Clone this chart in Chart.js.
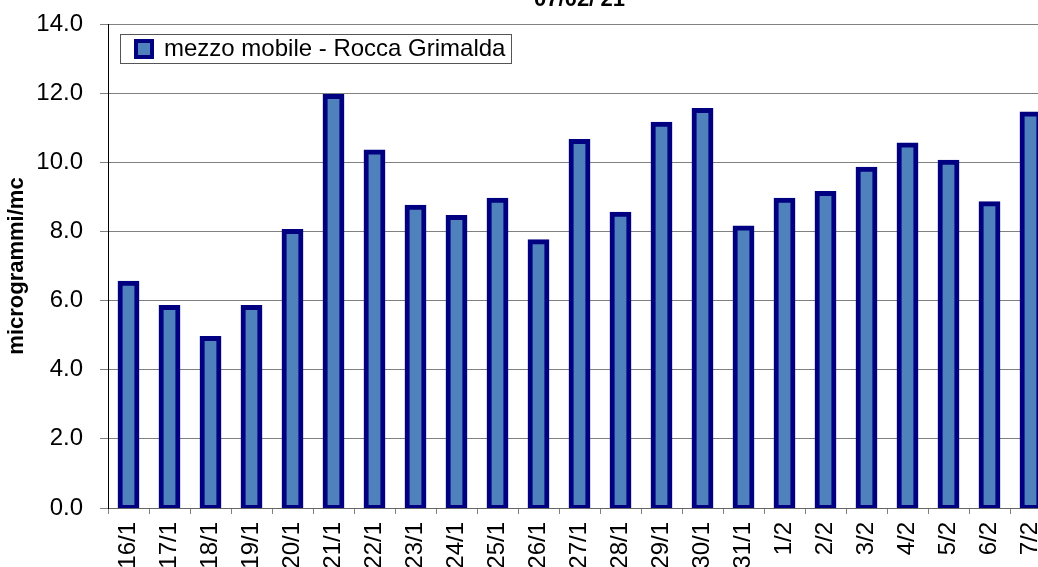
<!DOCTYPE html>
<html>
<head>
<meta charset="utf-8">
<script src="https://cdn.jsdelivr.net/npm/chart.js@4/dist/chart.umd.min.js"></script>
<style>
  html, body { margin: 0; padding: 0; overflow: hidden; background: #fff; }
  #wrap { position: absolute; left: 0; top: -20px; }
</style>
</head>
<body>
<div id="wrap"><canvas id="chart" width="1070" height="587"></canvas></div>
<script>
// dati giornalieri PM - mezzo mobile
const giorni = ["16/1","17/1","18/1","19/1","20/1","21/1","22/1","23/1","24/1","25/1","26/1","27/1",
  "28/1","29/1","30/1","31/1","1/2","2/2","3/2","4/2","5/2","6/2","7/2"];
const valori = [6.5, 5.8, 4.9, 5.8, 8.0, 11.9, 10.3, 8.7, 8.4, 8.9, 7.7, 10.6,
  8.5, 11.1, 11.5, 8.1, 8.9, 9.1, 9.8, 10.5, 10.0, 8.8, 11.4];
const serie = "mezzo mobile - Rocca Grimalda";
const titolo = "07/02/'21";

const FONT = "'Liberation Sans', Arial, sans-serif";

// cornice attorno alla legenda
const legendBox = {
  id: "legendBox",
  afterDraw(chart) {
    const hb = chart.legend && chart.legend.legendHitBoxes && chart.legend.legendHitBoxes[0];
    if (!hb) return;
    const ctx = chart.ctx;
    ctx.save();
    ctx.strokeStyle = "#555";
    ctx.lineWidth = 1;
    const x0 = Math.round(hb.left - 16) + 0.5;
    const y0 = Math.round(hb.top - 3) + 0.5;
    ctx.strokeRect(x0, y0, Math.round(hb.width + 22), Math.round(hb.height + 5));
    ctx.restore();
  }
};

new Chart(document.getElementById("chart").getContext("2d"), {
  type: "bar",
  data: {
    labels: giorni,
    datasets: [{
      label: serie,
      data: valori,
      backgroundColor: "#4F81BD",
      borderColor: "#000080",
      borderWidth: 5,
      borderSkipped: false,
      inflateAmount: 2.5,
      categoryPercentage: 1,
      barPercentage: 0.41
    }]
  },
  options: {
    responsive: false,
    animation: false,
    layout: { padding: { left: 0, right: 19, top: 0, bottom: 0 } },
    plugins: {
      title: {
        display: true,
        text: titolo,
        fullSize: false,
        color: "#000",
        font: { family: FONT, size: 22, weight: "bold" },
        padding: { top: 7, bottom: 10.6 }
      },
      legend: {
        position: "chartArea",
        align: "start",
        title: { display: true, text: "", font: { size: 10 }, padding: { top: 17, bottom: 0 } },
        labels: {
          color: "#000",
          font: { family: FONT, size: 24 },
          boxWidth: 16,
          boxHeight: 16,
          padding: 28,
          generateLabels(chart) {
            const items = Chart.defaults.plugins.legend.labels.generateLabels(chart);
            items.forEach(it => { it.lineWidth = 4; });
            return items;
          }
        }
      },
      tooltip: { enabled: false }
    },
    scales: {
      x: {
        ticks: {
          color: "#000",
          font: { family: FONT, size: 24 },
          minRotation: 90,
          maxRotation: 90,
          autoSkip: false,
          padding: 8
        },
        grid: { drawOnChartArea: false, drawTicks: true, tickLength: 6, color: "#808080" },
        border: { color: "#666", width: 1 },
        afterFit(scale) { scale.height = 59; }
      },
      y: {
        min: 0,
        max: 14,
        ticks: {
          stepSize: 2,
          color: "#000",
          font: { family: FONT, size: 24 },
          padding: 17,
          callback: v => Number(v).toFixed(1)
        },
        grid: { color: "#808080", tickLength: 8 },
        border: { color: "#000", width: 1 },
        title: {
          display: true,
          text: "microgrammi/mc",
          color: "#000",
          font: { family: FONT, size: 22, weight: "bold" },
          padding: { top: 4, bottom: 0 }
        },
        afterFit(scale) { scale.width = 108; }
      }
    }
  },
  plugins: [legendBox]
});
</script>
</body>
</html>
